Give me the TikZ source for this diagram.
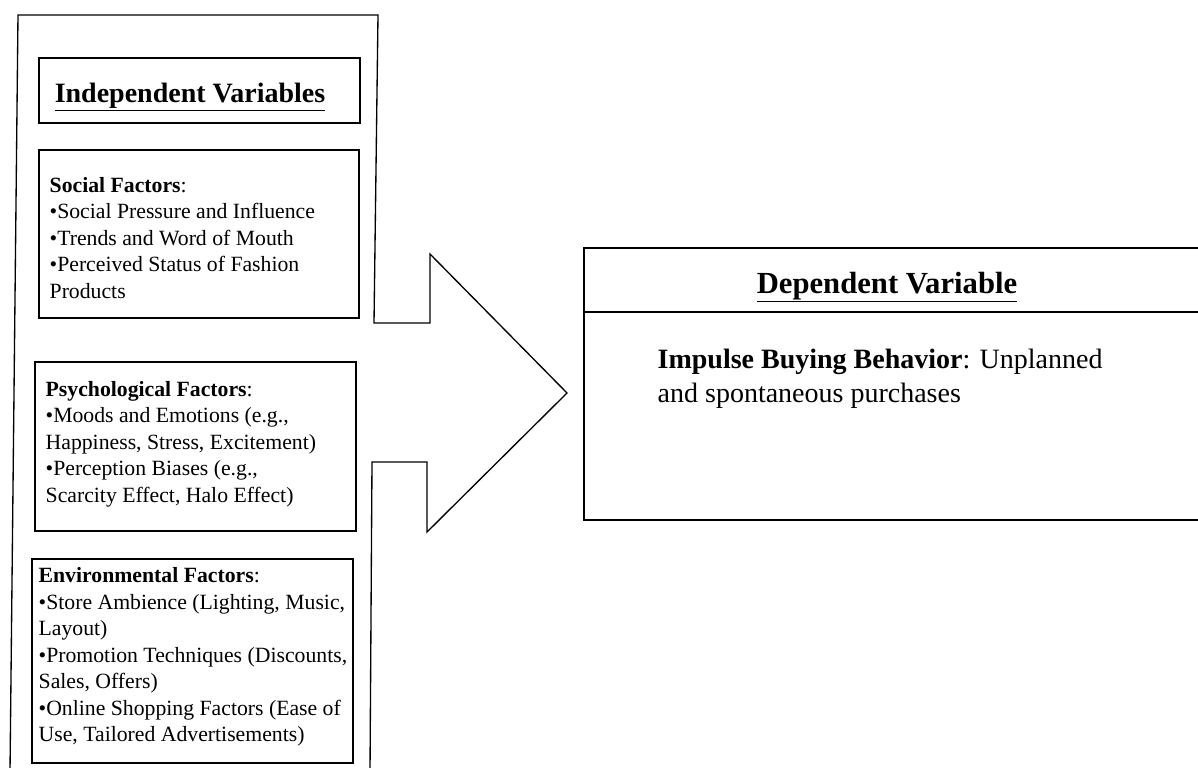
\documentclass[tikz,border=0pt]{standalone}
\usepackage{fontspec}
\setmainfont{Liberation Serif}[BoldFont={Liberation Serif Bold}]
\usetikzlibrary{fit}
\begin{document}
\begin{tikzpicture}[x=0.75pt,y=-0.75pt,line width=1pt,line join=miter,
  framebox/.style={draw,rectangle,inner sep=0pt},
  bodytext/.style={anchor=west,align=left,inner sep=0pt,font=\fontsize{16.3}{19.9}\selectfont},
  headtext/.style={anchor=base,inner sep=0pt,font=\fontsize{21}{25}\selectfont\bfseries},
  deptext/.style={anchor=base west,align=left,inner sep=0pt,font=\fontsize{21}{25.5}\selectfont}]
\useasboundingbox (0,0) rectangle (1198,767);
% outer frame merged with the big arrow
\draw (10,772) -- (18,15) -- (378,15) -- (374,323) -- (430,323) -- (430,254)
  -- (567,393) -- (427,532) -- (427,462) -- (372,462) -- (370,772);
% left boxes
\node[framebox,fit={(39,58) (360,123)}] (indep) {};
\node[headtext] (indeptxt) at (190,102) {\underline{Independent Variables}};
\node[framebox,fit={(39,150) (359,318)}] (social) {};
\node[bodytext] (socialtxt) at (49,238) {\textbf{Social Factors}:\\
  •Social Pressure and Influence\\
  •Trends and Word of Mouth\\
  •Perceived Status of Fashion\\
  Products};
\node[framebox,fit={(35,362) (356,531)}] (psych) {};
\node[bodytext] (psychtxt) at (45,444) {\textbf{Psychological Factors}:\\
  •Moods and Emotions (e.g.,\\
  Happiness, Stress, Excitement)\\
  •Perception Biases (e.g.,\\
  Scarcity Effect, Halo Effect)};
\node[framebox,fit={(32,559) (353,763)}] (env) {};
\node[bodytext] (envtxt) at (38,657) {\textbf{Environmental Factors}:\\
  •Store Ambience (Lighting, Music,\\
  Layout)\\
  •Promotion Techniques (Discounts,\\
  Sales, Offers)\\
  •Online Shopping Factors (Ease of\\
  Use, Tailored Advertisements)};
% dependent box (cut at the right edge)
\coordinate (dtr) at (1205,248);
\coordinate (dmr) at (1205,312);
\coordinate (dbr) at (1205,520);
\draw (dtr) -- (584,248) -- (584,520) -- (dbr);
\draw (584,312) -- (dmr);
\node[headtext,font=\fontsize{23}{27}\selectfont\bfseries] (deptitle) at (887,293) {\underline{Dependent Variable}};
\node[deptext] (deptxt) at (657,402) {\textbf{Impulse Buying Behavior}: Unplanned\\
  and spontaneous purchases};
\end{tikzpicture}
\end{document}
